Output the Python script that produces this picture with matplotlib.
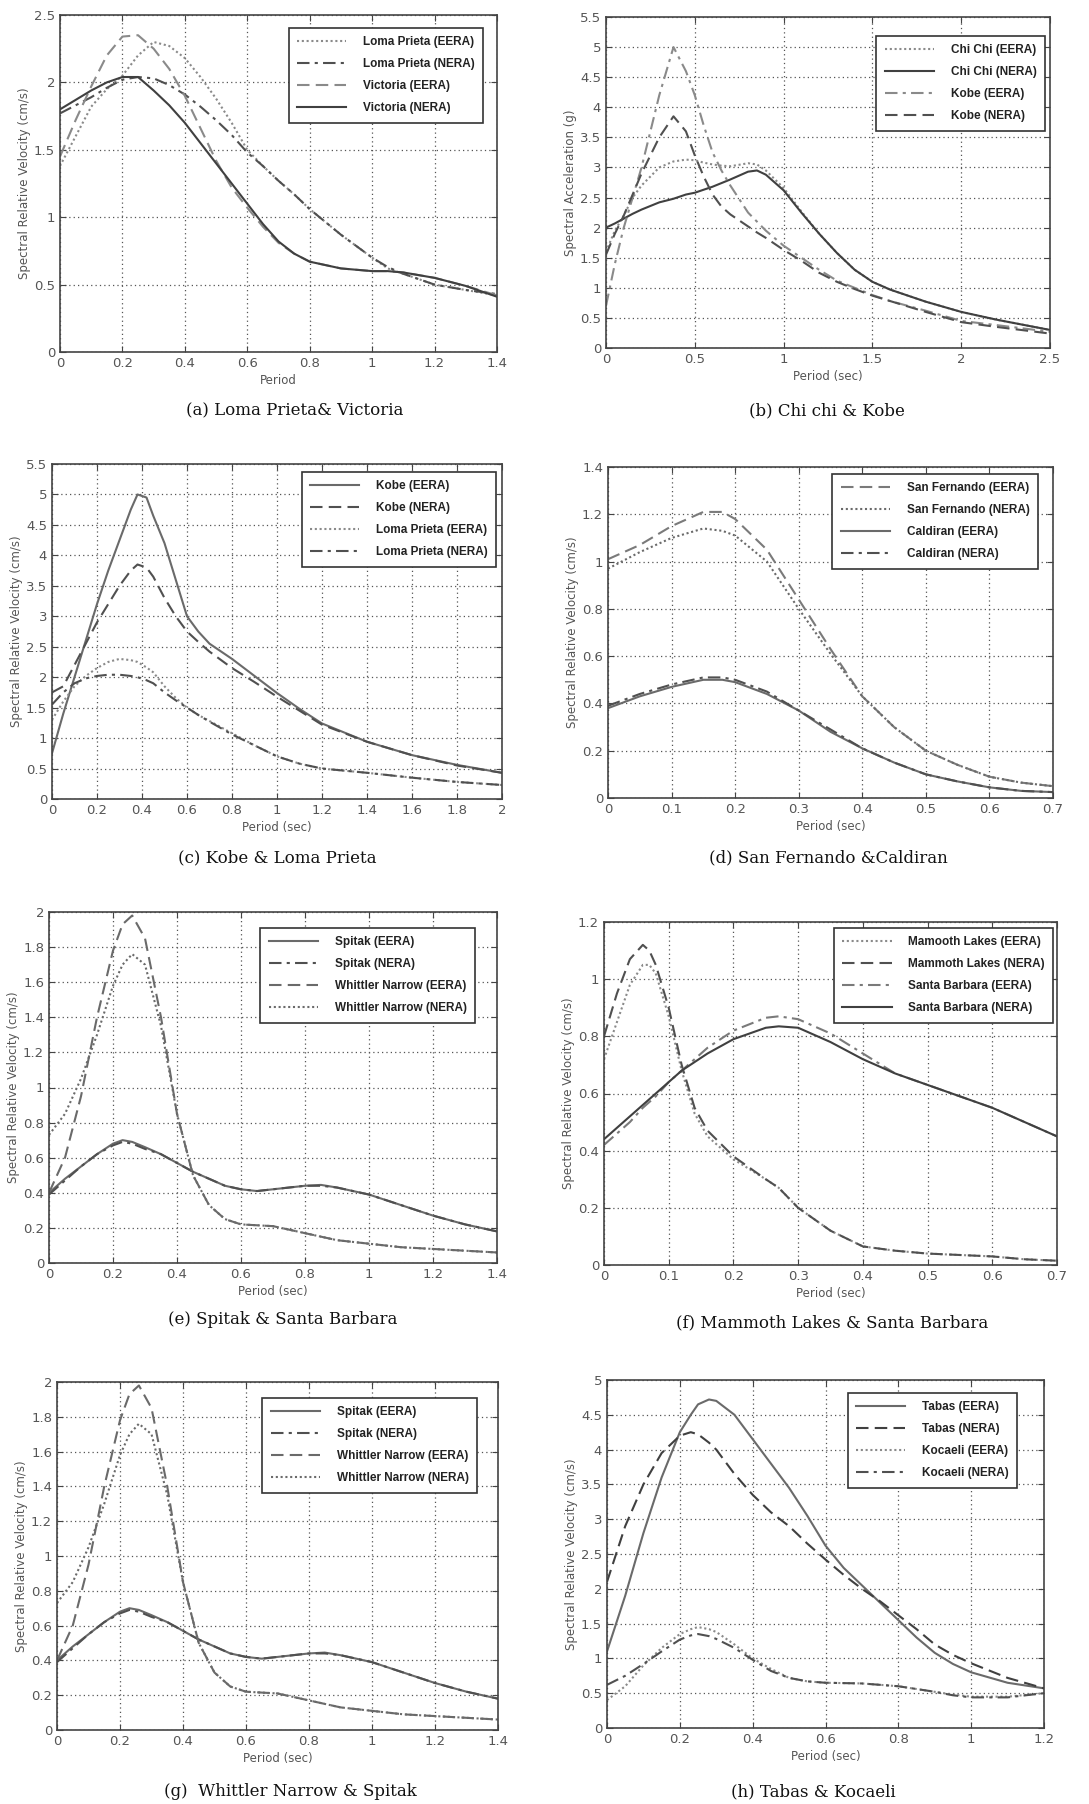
import numpy as np
import matplotlib.pyplot as plt
from matplotlib.ticker import FuncFormatter

W, H = 1089, 1804

# (a) Loma Prieta & Victoria
a_t = [0, 0.05, 0.1, 0.15, 0.2, 0.25, 0.3, 0.35, 0.4, 0.45, 0.5, 0.55, 0.6, 0.65, 0.7,
       0.75, 0.8, 0.9, 1.0, 1.05, 1.1, 1.2, 1.3, 1.4]
a_loma_eera = [1.38, 1.6, 1.82, 1.95, 2.05, 2.2, 2.3, 2.27, 2.18, 2.04, 1.88, 1.7, 1.5, 1.38, 1.27,
               1.17, 1.06, 0.87, 0.7, 0.62, 0.58, 0.5, 0.46, 0.42]
a_loma_nera = [1.77, 1.83, 1.89, 1.96, 2.02, 2.04, 2.03, 1.98, 1.91, 1.82, 1.72, 1.61, 1.48, 1.38, 1.27,
               1.17, 1.06, 0.87, 0.7, 0.63, 0.58, 0.5, 0.46, 0.43]
a_vic_eera = [1.45, 1.72, 1.97, 2.2, 2.34, 2.35, 2.25, 2.1, 1.9, 1.66, 1.42, 1.22, 1.07, 0.93, 0.81,
              0.73, 0.67, 0.62, 0.6, 0.6, 0.59, 0.55, 0.49, 0.42]
a_vic_nera = [1.8, 1.87, 1.94, 2.0, 2.04, 2.04, 1.94, 1.83, 1.7, 1.55, 1.4, 1.25, 1.1, 0.95, 0.82,
              0.73, 0.67, 0.62, 0.6, 0.6, 0.59, 0.55, 0.49, 0.41]

# (b) Chi chi & Kobe
b_t = [0, 0.05, 0.1, 0.15, 0.2, 0.3, 0.38, 0.45, 0.5, 0.55, 0.6, 0.65, 0.7, 0.8, 0.85, 0.9, 1.0,
       1.1, 1.2, 1.3, 1.4, 1.5, 1.6, 1.8, 2.0, 2.2, 2.5]
b_chichi_eera = [1.6, 1.95, 2.2, 2.5, 2.7, 3.0, 3.1, 3.13, 3.12, 3.08, 3.05, 3.03, 3.02, 3.07, 3.05,
                 2.95, 2.66, 2.27, 1.9, 1.58, 1.3, 1.1, 0.97, 0.77, 0.6, 0.47, 0.3]
b_chichi_nera = [2.0, 2.07, 2.15, 2.23, 2.3, 2.42, 2.48, 2.55, 2.58, 2.63, 2.68, 2.74, 2.8, 2.93, 2.95,
                 2.88, 2.62, 2.25, 1.9, 1.58, 1.3, 1.1, 0.97, 0.77, 0.6, 0.47, 0.3]
b_kobe_eera = [0.7, 1.4, 2.0, 2.5, 3.0, 4.2, 5.0, 4.6, 4.2, 3.7, 3.25, 2.95, 2.7, 2.25, 2.1, 1.95,
               1.7, 1.5, 1.3, 1.12, 1.0, 0.88, 0.78, 0.62, 0.45, 0.38, 0.27]
b_kobe_nera = [1.55, 1.9, 2.2, 2.55, 2.9, 3.5, 3.85, 3.6, 3.2, 2.85, 2.55, 2.35, 2.22, 2.02, 1.92, 1.83,
               1.63, 1.45, 1.25, 1.1, 0.98, 0.87, 0.78, 0.6, 0.43, 0.35, 0.24]

# (c) Kobe & Loma Prieta
c_t = [0, 0.05, 0.1, 0.15, 0.2, 0.25, 0.3, 0.35, 0.38, 0.42, 0.45, 0.5, 0.55, 0.6, 0.65, 0.7, 0.8,
       0.9, 1.0, 1.1, 1.2, 1.4, 1.6, 1.8, 2.0]
c_kobe_eera = [0.75, 1.4, 2.0, 2.6, 3.2, 3.75, 4.25, 4.75, 5.0, 4.95, 4.65, 4.2, 3.6, 3.0, 2.75, 2.55,
               2.3, 2.02, 1.74, 1.48, 1.24, 0.94, 0.72, 0.56, 0.43]
c_kobe_nera = [1.75, 1.85, 2.2, 2.55, 2.9, 3.2, 3.5, 3.75, 3.85, 3.8, 3.65, 3.3, 3.0, 2.75, 2.58, 2.42,
               2.15, 1.92, 1.68, 1.45, 1.22, 0.94, 0.72, 0.55, 0.43]
c_loma_eera = [1.3, 1.6, 1.85, 2.02, 2.15, 2.25, 2.3, 2.28, 2.25, 2.16, 2.08, 1.85, 1.66, 1.5, 1.38,
               1.28, 1.08, 0.88, 0.7, 0.58, 0.5, 0.43, 0.35, 0.28, 0.23]
c_loma_nera = [1.55, 1.75, 1.9, 1.98, 2.02, 2.04, 2.04, 2.02, 2.0, 1.95, 1.9, 1.75, 1.62, 1.5, 1.38,
               1.27, 1.06, 0.88, 0.7, 0.58, 0.5, 0.43, 0.35, 0.28, 0.23]

# (d) San Fernando & Caldiran
d_t = [0, 0.05, 0.1, 0.15, 0.18, 0.2, 0.25, 0.3, 0.35, 0.4, 0.45, 0.5, 0.55, 0.6, 0.65, 0.7]
d_sf_eera = [1.01, 1.07, 1.15, 1.21, 1.21, 1.18, 1.05, 0.84, 0.63, 0.43, 0.3, 0.2, 0.14, 0.09, 0.065, 0.05]
d_sf_nera = [0.97, 1.04, 1.1, 1.14, 1.13, 1.11, 1.0, 0.8, 0.61, 0.43, 0.3, 0.2, 0.14, 0.09, 0.065, 0.05]
d_cal_eera = [0.38, 0.43, 0.47, 0.5, 0.5, 0.49, 0.44, 0.37, 0.28, 0.21, 0.15, 0.1, 0.07, 0.045, 0.03, 0.025]
d_cal_nera = [0.39, 0.44, 0.48, 0.51, 0.51, 0.5, 0.45, 0.37, 0.29, 0.21, 0.15, 0.1, 0.07, 0.045, 0.03, 0.025]

# (e)/(g) Spitak & Whittler Narrow
e_t = [0, 0.05, 0.1, 0.15, 0.2, 0.23, 0.26, 0.3, 0.35, 0.4, 0.45, 0.5, 0.55, 0.6, 0.65, 0.7, 0.8,
       0.85, 0.9, 1.0, 1.1, 1.2, 1.3, 1.4]
e_spitak_eera = [0.4, 0.48, 0.55, 0.62, 0.68, 0.7, 0.69, 0.66, 0.62, 0.57, 0.52, 0.48, 0.44, 0.42, 0.41,
                 0.42, 0.44, 0.445, 0.43, 0.39, 0.33, 0.27, 0.22, 0.18]
e_spitak_nera = [0.39, 0.47, 0.55, 0.62, 0.67, 0.69, 0.68, 0.65, 0.62, 0.57, 0.52, 0.48, 0.44, 0.42, 0.41,
                 0.42, 0.44, 0.44, 0.43, 0.39, 0.33, 0.27, 0.22, 0.18]
e_wn_eera = [0.4, 0.6, 0.95, 1.4, 1.78, 1.93, 1.98, 1.85, 1.4, 0.85, 0.5, 0.33, 0.25, 0.22, 0.215, 0.21,
             0.17, 0.15, 0.13, 0.11, 0.09, 0.08, 0.07, 0.06]
e_wn_nera = [0.73, 0.85, 1.05, 1.3, 1.58, 1.7, 1.76, 1.7, 1.35, 0.85, 0.5, 0.33, 0.25, 0.22, 0.215,
             0.21, 0.17, 0.15, 0.13, 0.11, 0.09, 0.08, 0.07, 0.06]

# (f) Mammoth Lakes & Santa Barbara
f_t = [0, 0.02, 0.04, 0.06, 0.07, 0.08, 0.1, 0.12, 0.14, 0.16, 0.2, 0.25, 0.27, 0.3, 0.35, 0.4, 0.45,
       0.5, 0.55, 0.6, 0.65, 0.7]
f_mam_eera = [0.72, 0.85, 0.98, 1.05, 1.05, 1.02, 0.87, 0.68, 0.53, 0.45, 0.37, 0.3, 0.27, 0.2, 0.12,
              0.065, 0.05, 0.04, 0.035, 0.03, 0.02, 0.015]
f_mam_nera = [0.8, 0.95, 1.07, 1.12, 1.1, 1.05, 0.9, 0.7, 0.55, 0.47, 0.38, 0.3, 0.27, 0.2, 0.12,
              0.065, 0.05, 0.04, 0.035, 0.03, 0.02, 0.015]
f_sb_eera = [0.42, 0.46, 0.5, 0.55, 0.57, 0.59, 0.64, 0.68, 0.72, 0.76, 0.82, 0.865, 0.87, 0.86, 0.81,
             0.74, 0.67, 0.63, 0.59, 0.55, 0.5, 0.45]
f_sb_nera = [0.44, 0.48, 0.52, 0.56, 0.58, 0.6, 0.64, 0.68, 0.71, 0.74, 0.79, 0.83, 0.835, 0.83, 0.78,
             0.72, 0.67, 0.63, 0.59, 0.55, 0.5, 0.45]

# (h) Tabas & Kocaeli
h_t = [0, 0.05, 0.1, 0.15, 0.2, 0.23, 0.25, 0.28, 0.3, 0.35, 0.4, 0.45, 0.5, 0.55, 0.6, 0.65, 0.7,
       0.75, 0.8, 0.85, 0.9, 0.95, 1.0, 1.1, 1.2]
h_tabas_eera = [1.1, 1.9, 2.8, 3.6, 4.25, 4.5, 4.65, 4.72, 4.7, 4.5, 4.15, 3.8, 3.45, 3.05, 2.62, 2.3,
                2.05, 1.8, 1.55, 1.3, 1.08, 0.92, 0.8, 0.65, 0.57]
h_tabas_nera = [2.1, 2.9, 3.5, 3.95, 4.2, 4.25, 4.22, 4.1, 4.0, 3.65, 3.35, 3.1, 2.9, 2.65, 2.42, 2.2,
                2.0, 1.82, 1.62, 1.42, 1.2, 1.05, 0.93, 0.72, 0.57]
h_koc_eera = [0.4, 0.6, 0.9, 1.15, 1.35, 1.42, 1.45, 1.42, 1.38, 1.2, 1.0, 0.85, 0.72, 0.67, 0.65, 0.645,
              0.64, 0.62, 0.6, 0.56, 0.52, 0.48, 0.45, 0.45, 0.5]
h_koc_nera = [0.62, 0.75, 0.92, 1.1, 1.27, 1.33, 1.35, 1.32, 1.28, 1.15, 0.98, 0.82, 0.72, 0.67, 0.65,
              0.645, 0.64, 0.62, 0.6, 0.56, 0.52, 0.47, 0.44, 0.44, 0.5]

DOT = (0, (1, 1.3))
DASH = (0, (6, 3))
DASHDOT = (0, (6, 2.5, 1.5, 2.5))

# panel: axes box px (l, t, r, b), legend top-right px, caption center px
panels = [
    dict(box=(60, 15, 497, 352), leg=(483, 28), cap=(295, 411), cap_txt="(a) Loma Prieta& Victoria",
         x=a_t, xlim=(0, 1.4), xticks=np.arange(0, 1.41, 0.2), ylim=(0, 2.5), yticks=np.arange(0, 2.51, 0.5),
         xlabel="Period", ylabel="Spectral Relative Velocity (cm/s)",
         lines=[(a_loma_eera, "Loma Prieta (EERA)", DOT, "#8a8a8a"),
                (a_loma_nera, "Loma Prieta (NERA)", DASHDOT, "#505050"),
                (a_vic_eera, "Victoria (EERA)", DASH, "#8a8a8a"),
                (a_vic_nera, "Victoria (NERA)", "-", "#404040")]),
    dict(box=(606, 17, 1050, 348), leg=(1045, 36), cap=(827, 411), cap_txt="(b) Chi chi & Kobe",
         x=b_t, xlim=(0, 2.5), xticks=np.arange(0, 2.51, 0.5), ylim=(0, 5.5), yticks=np.arange(0, 5.51, 0.5),
         xlabel="Period (sec)", ylabel="Spectral Acceleration (g)",
         lines=[(b_chichi_eera, "Chi Chi (EERA)", DOT, "#8a8a8a"),
                (b_chichi_nera, "Chi Chi (NERA)", "-", "#404040"),
                (b_kobe_eera, "Kobe (EERA)", DASHDOT, "#8a8a8a"),
                (b_kobe_nera, "Kobe (NERA)", DASH, "#505050")]),
    dict(box=(52, 464, 502, 799), leg=(496, 472), cap=(277, 858), cap_txt="(c) Kobe & Loma Prieta",
         x=c_t, xlim=(0, 2), xticks=np.arange(0, 2.01, 0.2), ylim=(0, 5.5), yticks=np.arange(0, 5.51, 0.5),
         xlabel="Period (sec)", ylabel="Spectral Relative Velocity (cm/s)",
         lines=[(c_kobe_eera, "Kobe (EERA)", "-", "#6a6a6a"),
                (c_kobe_nera, "Kobe (NERA)", DASH, "#505050"),
                (c_loma_eera, "Loma Prieta (EERA)", DOT, "#8a8a8a"),
                (c_loma_nera, "Loma Prieta (NERA)", DASHDOT, "#505050")]),
    dict(box=(608, 467, 1053, 798), leg=(1038, 474), cap=(828, 858), cap_txt="(d) San Fernando &Caldiran",
         x=d_t, xlim=(0, 0.7), xticks=np.arange(0, 0.71, 0.1), ylim=(0, 1.4), yticks=np.arange(0, 1.41, 0.2),
         xlabel="Period (sec)", ylabel="Spectral Relative Velocity (cm/s)",
         lines=[(d_sf_eera, "San Fernando (EERA)", DASH, "#7a7a7a"),
                (d_sf_nera, "San Fernando (NERA)", DOT, "#6a6a6a"),
                (d_cal_eera, "Caldiran (EERA)", "-", "#6a6a6a"),
                (d_cal_nera, "Caldiran (NERA)", DASHDOT, "#505050")]),
    dict(box=(49, 912, 497, 1263), leg=(475, 928), cap=(283, 1320), cap_txt="(e) Spitak & Santa Barbara",
         x=e_t, xlim=(0, 1.4), xticks=np.arange(0, 1.41, 0.2), ylim=(0, 2), yticks=np.arange(0, 2.01, 0.2),
         xlabel="Period (sec)", ylabel="Spectral Relative Velocity (cm/s)",
         lines=[(e_spitak_eera, "Spitak (EERA)", "-", "#6a6a6a"),
                (e_spitak_nera, "Spitak (NERA)", DASHDOT, "#505050"),
                (e_wn_eera, "Whittler Narrow (EERA)", DASH, "#6a6a6a"),
                (e_wn_nera, "Whittler Narrow (NERA)", DOT, "#6a6a6a")]),
    dict(box=(604, 922, 1057, 1265), leg=(1053, 928), cap=(832, 1323), cap_txt="(f) Mammoth Lakes & Santa Barbara",
         x=f_t, xlim=(0, 0.7), xticks=np.arange(0, 0.71, 0.1), ylim=(0, 1.2), yticks=np.arange(0, 1.21, 0.2),
         xlabel="Period (sec)", ylabel="Spectral Relative Velocity (cm/s)",
         lines=[(f_mam_eera, "Mamooth Lakes (EERA)", DOT, "#8a8a8a"),
                (f_mam_nera, "Mammoth Lakes (NERA)", DASH, "#505050"),
                (f_sb_eera, "Santa Barbara (EERA)", DASHDOT, "#7a7a7a"),
                (f_sb_nera, "Santa Barbara (NERA)", "-", "#404040")]),
    dict(box=(57, 1382, 498, 1730), leg=(477, 1398), cap=(290, 1792), cap_txt="(g)  Whittler Narrow & Spitak",
         x=e_t, xlim=(0, 1.4), xticks=np.arange(0, 1.41, 0.2), ylim=(0, 2), yticks=np.arange(0, 2.01, 0.2),
         xlabel="Period (sec)", ylabel="Spectral Relative Velocity (cm/s)",
         lines=[(e_spitak_eera, "Spitak (EERA)", "-", "#6a6a6a"),
                (e_spitak_nera, "Spitak (NERA)", DASHDOT, "#505050"),
                (e_wn_eera, "Whittler Narrow (EERA)", DASH, "#6a6a6a"),
                (e_wn_nera, "Whittler Narrow (NERA)", DOT, "#6a6a6a")]),
    dict(box=(607, 1380, 1044, 1728), leg=(1017, 1393), cap=(813, 1792), cap_txt="(h) Tabas & Kocaeli",
         x=h_t, xlim=(0, 1.2), xticks=np.arange(0, 1.21, 0.2), ylim=(0, 5), yticks=np.arange(0, 5.01, 0.5),
         xlabel="Period (sec)", ylabel="Spectral Relative Velocity (cm/s)",
         lines=[(h_tabas_eera, "Tabas (EERA)", "-", "#6a6a6a"),
                (h_tabas_nera, "Tabas (NERA)", DASH, "#404040"),
                (h_koc_eera, "Kocaeli (EERA)", DOT, "#8a8a8a"),
                (h_koc_nera, "Kocaeli (NERA)", DASHDOT, "#505050")]),
]

fmt = FuncFormatter(lambda v, p: "%g" % round(v, 3))

fig = plt.figure(figsize=(W / 100, H / 100), dpi=100)

for p in panels:
    l, t, r, b = p["box"]
    ax = fig.add_axes([l / W, 1 - b / H, (r - l) / W, (b - t) / H])
    for y, lab, ls, col in p["lines"]:
        ax.plot(p["x"], y, linestyle=ls, color=col, lw=1.5, label=lab)
    ax.set_xlim(*p["xlim"])
    ax.set_ylim(*p["ylim"])
    ax.set_xticks(p["xticks"])
    ax.set_yticks(p["yticks"])
    ax.xaxis.set_major_formatter(fmt)
    ax.yaxis.set_major_formatter(fmt)
    ax.grid(True, linestyle=(0, (1, 2.5)), color="#555555", lw=0.9)
    ax.tick_params(direction="in", top=True, right=True, length=4, labelsize=9.5,
                   labelcolor="#555555", color="#444444")
    for s in ax.spines.values():
        s.set_color("#444444")
        s.set_linewidth(1.2)
    ax.set_xlabel(p["xlabel"], fontsize=8.5, color="#555555", labelpad=3)
    ax.set_ylabel(p["ylabel"], fontsize=8.5, color="#555555", labelpad=2)
    lx, ly = p["leg"]
    ax_w, ax_h = r - l, b - t
    leg = ax.legend(loc="upper right", bbox_to_anchor=((lx - l) / ax_w, 1 - (ly - t) / ax_h),
                    borderaxespad=0, fancybox=False, framealpha=1, edgecolor="#333333",
                    prop={"family": "Liberation Sans", "weight": "bold", "size": 8.5},
                    handlelength=4.2, handletextpad=1.4, labelspacing=0.85, borderpad=0.7)
    leg.get_frame().set_linewidth(1.2)
    for txt in leg.get_texts():
        txt.set_color("#222222")
    fig.text(p["cap"][0] / W, 1 - p["cap"][1] / H, p["cap_txt"], ha="center", va="center",
             family="DejaVu Serif", fontsize=12, color="#111111")

fig.savefig("out.png", dpi=100, facecolor="white")
